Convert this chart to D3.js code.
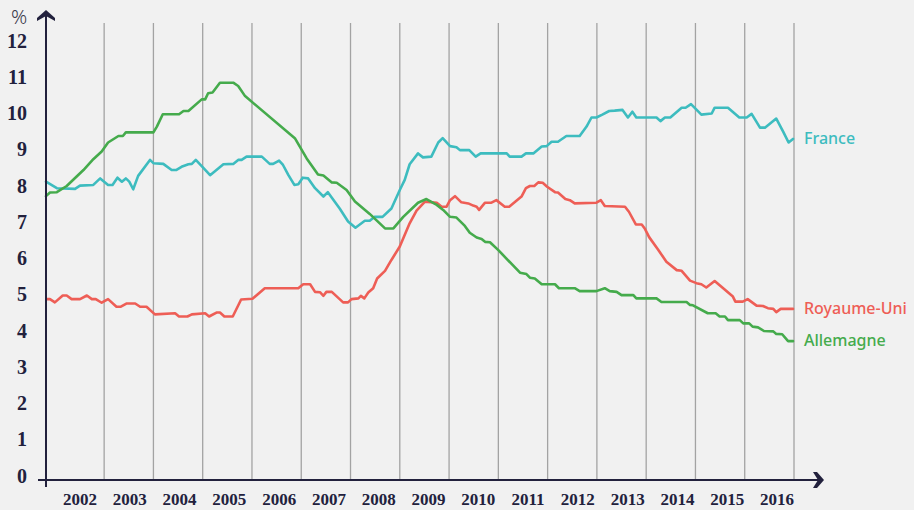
<!DOCTYPE html>
<html><head><meta charset="utf-8">
<script src="https://cdn.jsdelivr.net/npm/d3@7/dist/d3.min.js"></script>
<style>html,body{margin:0;padding:0;background:#f1f1f1;} svg{display:block;}</style>
</head><body><svg id="c" width="914" height="510"></svg>
<script>
// ---- data ----
const yearLabels = [2002,2003,2004,2005,2006,2007,2008,2009,2010,2011,2012,2013,2014,2015,2016];
const gridYears = [2003,2004,2005,2006,2007,2008,2009,2010,2011,2012,2013,2014,2015,2016,2017];
const yTicks = [0,1,2,3,4,5,6,7,8,9,10,11,12];
const seriesNames = ["France","Royaume-Uni","Allemagne"];
const seriesColors = ["#3dbcbf","#ee5e56","#45ab4c"];

const franceDates = [2001.82,2002.04,2002.41,2002.51,2002.78,2002.92,2003.08,2003.17,2003.27,2003.36,2003.44,2003.51,2003.59,2003.69,2003.93,2004.00,2004.20,2004.37,2004.46,2004.57,2004.71,2004.78,2004.86,2004.98,2005.15,2005.42,2005.62,2005.72,2005.79,2005.89,2006.20,2006.36,2006.43,2006.55,2006.63,2006.74,2006.86,2006.94,2007.03,2007.14,2007.28,2007.45,2007.54,2007.78,2007.95,2008.10,2008.29,2008.39,2008.49,2008.65,2008.83,2009.00,2009.10,2009.20,2009.37,2009.47,2009.64,2009.78,2009.87,2010.02,2010.15,2010.22,2010.41,2010.54,2010.64,2011.17,2011.23,2011.47,2011.56,2011.71,2011.88,2011.98,2012.08,2012.21,2012.38,2012.65,2012.79,2012.89,2012.99,2013.11,2013.25,2013.36,2013.52,2013.63,2013.72,2013.80,2014.21,2014.29,2014.38,2014.49,2014.72,2014.80,2014.91,2015.12,2015.33,2015.39,2015.66,2015.89,2016.04,2016.14,2016.31,2016.41,2016.64,2016.78,2016.89,2016.98];
const franceValues = [8.23,8.05,8.03,8.12,8.14,8.32,8.14,8.14,8.34,8.23,8.32,8.23,8.02,8.39,8.83,8.74,8.72,8.55,8.55,8.64,8.71,8.72,8.83,8.66,8.41,8.71,8.72,8.83,8.83,8.92,8.92,8.72,8.72,8.81,8.69,8.41,8.14,8.16,8.34,8.32,8.05,7.82,7.94,7.49,7.13,6.96,7.15,7.15,7.26,7.26,7.49,8.00,8.28,8.71,9.01,8.90,8.92,9.31,9.43,9.21,9.18,9.10,9.10,8.92,9.01,9.01,8.92,8.92,9.01,9.01,9.20,9.21,9.33,9.33,9.49,9.49,9.75,10.00,10.00,10.08,10.18,10.19,10.21,10.00,10.16,10.00,10.00,9.90,10.00,10.00,10.27,10.27,10.37,10.08,10.11,10.27,10.27,10.00,10.00,10.10,9.72,9.72,9.97,9.61,9.31,9.41];

const ukDates = [2001.83,2001.90,2002.00,2002.16,2002.24,2002.34,2002.51,2002.65,2002.75,2002.83,2002.95,2003.08,2003.25,2003.34,2003.46,2003.63,2003.73,2003.86,2004.03,2004.44,2004.52,2004.69,2004.78,2005.05,2005.13,2005.28,2005.35,2005.44,2005.61,2005.78,2006.01,2006.26,2006.94,2007.04,2007.18,2007.28,2007.38,2007.45,2007.51,2007.62,2007.85,2007.95,2008.02,2008.16,2008.21,2008.28,2008.36,2008.46,2008.54,2008.70,2008.83,2009.00,2009.20,2009.34,2009.51,2009.75,2009.85,2009.95,2010.02,2010.12,2010.25,2010.39,2010.49,2010.56,2010.61,2010.73,2010.86,2010.96,2011.13,2011.22,2011.47,2011.56,2011.64,2011.73,2011.81,2011.90,2011.99,2012.15,2012.21,2012.36,2012.45,2012.55,2012.99,2013.08,2013.16,2013.57,2013.65,2013.79,2013.91,2013.97,2014.06,2014.24,2014.41,2014.62,2014.72,2014.89,2015.02,2015.12,2015.22,2015.39,2015.76,2015.81,2015.96,2016.06,2016.24,2016.37,2016.47,2016.58,2016.64,2016.73,2016.98];
const ukValues = [4.99,4.99,4.90,5.09,5.09,4.99,4.99,5.09,4.99,4.99,4.89,4.99,4.78,4.78,4.87,4.87,4.78,4.78,4.57,4.60,4.51,4.51,4.57,4.60,4.51,4.62,4.62,4.51,4.51,4.98,5.00,5.29,5.29,5.40,5.40,5.19,5.18,5.08,5.19,5.19,4.90,4.90,4.99,5.01,5.08,5.01,5.17,5.29,5.56,5.77,6.07,6.44,7.08,7.43,7.68,7.65,7.54,7.54,7.72,7.83,7.66,7.63,7.57,7.54,7.45,7.65,7.65,7.72,7.54,7.54,7.82,8.05,8.11,8.11,8.21,8.20,8.09,7.94,7.93,7.75,7.72,7.63,7.65,7.72,7.56,7.54,7.40,7.05,7.05,6.94,6.70,6.36,6.02,5.79,5.77,5.50,5.43,5.40,5.31,5.49,5.06,4.92,4.92,4.99,4.81,4.80,4.74,4.72,4.63,4.72,4.72];

const germanyDates = [2001.82,2001.90,2002.04,2002.24,2002.58,2002.78,2002.95,2003.08,2003.29,2003.38,2003.44,2004.00,2004.07,2004.19,2004.52,2004.61,2004.71,2004.98,2005.05,2005.11,2005.20,2005.35,2005.62,2005.72,2005.86,2006.87,2007.11,2007.34,2007.45,2007.62,2007.72,2007.92,2008.09,2008.39,2008.70,2008.87,2009.07,2009.37,2009.54,2009.75,2009.88,2010.02,2010.15,2010.32,2010.42,2010.56,2010.66,2010.73,2010.83,2011.00,2011.44,2011.57,2011.64,2011.74,2011.88,2012.15,2012.23,2012.55,2012.65,2012.99,2013.16,2013.26,2013.40,2013.50,2013.74,2013.80,2014.21,2014.31,2014.82,2014.89,2014.95,2015.25,2015.41,2015.49,2015.60,2015.66,2015.90,2015.97,2016.09,2016.16,2016.27,2016.39,2016.58,2016.64,2016.76,2016.88,2016.98];
const germanyValues = [7.83,7.93,7.94,8.11,8.55,8.85,9.06,9.31,9.49,9.49,9.59,9.59,9.75,10.09,10.09,10.18,10.18,10.50,10.50,10.67,10.69,10.96,10.96,10.87,10.59,9.43,8.87,8.43,8.40,8.21,8.20,8.00,7.68,7.34,6.94,6.94,7.26,7.65,7.75,7.59,7.45,7.26,7.24,7.01,6.82,6.69,6.65,6.57,6.56,6.34,5.72,5.68,5.58,5.56,5.40,5.40,5.29,5.29,5.21,5.21,5.29,5.21,5.19,5.10,5.10,5.01,5.01,4.91,4.91,4.83,4.82,4.60,4.60,4.51,4.51,4.41,4.41,4.32,4.32,4.23,4.21,4.11,4.10,4.03,4.02,3.83,3.83];

// ---- drawing ----
const navy = "#22213d";
const svg = d3.select("#c");
svg.append("rect").attr("width",914).attr("height",510).attr("fill","#f1f1f1");

const x = d3.scaleLinear().domain([2001.82, 2017]).range([46, 794]);
const y = d3.scaleLinear().domain([0, 12]).range([480, 45]);
const xLab = d3.scalePoint().domain(yearLabels).range([80, 777]);

// gridlines
svg.append("g").selectAll("line").data(gridYears).join("line")
  .attr("x1", d => x(d)).attr("x2", d => x(d))
  .attr("y1", 23).attr("y2", y(0))
  .attr("stroke", "#a3a3a3").attr("stroke-width", 1.3);

// series
const zip = (a, b) => a.map((t, i) => [t, b[i]]);
const series = [zip(franceDates, franceValues), zip(ukDates, ukValues), zip(germanyDates, germanyValues)];
const line = d3.line().x(d => x(d[0])).y(d => y(d[1]));
svg.append("g").selectAll("path").data(series).join("path")
  .attr("d", line).attr("fill", "none")
  .attr("stroke", (d, i) => seriesColors[i])
  .attr("stroke-width", 2.6).attr("stroke-linejoin", "round").attr("stroke-linecap", "round");

// series labels
svg.append("g").selectAll("text").data(series).join("text")
  .attr("x", d => x(d[d.length-1][0]) + 11)
  .attr("y", d => y(d[d.length-1][1]) + 1)
  .attr("dominant-baseline", "middle")
  .attr("font-family", "'Noto Sans', sans-serif").attr("font-weight", 500).attr("font-size", 16)
  .attr("fill", (d, i) => seriesColors[i])
  .text((d, i) => seriesNames[i]);

// axes
const x0 = x.range()[0];
svg.append("line").attr("x1", x0).attr("x2", x0).attr("y1", 16).attr("y2", y(0) + 7)
  .attr("stroke", navy).attr("stroke-width", 2);
svg.append("line").attr("x1", x0 - 8).attr("x2", 818).attr("y1", y(0)).attr("y2", y(0))
  .attr("stroke", navy).attr("stroke-width", 2);
// arrow heads
svg.append("path").attr("fill", navy)
  .attr("d", `M${x0},10 L${x0+9},18 L${x0+9},21 L${x0},16 L${x0-9},21 L${x0-9},18 Z`);
const ay = y(0);
svg.append("path").attr("fill", navy)
  .attr("d", `M813,${ay-8} L817,${ay-8} L824,${ay} L817,${ay+8} L813,${ay+8} L818,${ay} Z`);

// y tick labels
svg.append("g").selectAll("text").data(yTicks).join("text")
  .attr("x", x0 - 19).attr("y", d => y(d) - 2)
  .attr("text-anchor", "end").attr("dominant-baseline", "middle")
  .attr("font-family", "'Liberation Serif', serif").attr("font-weight", "bold")
  .attr("font-size", 20).attr("fill", navy)
  .text(d => d);

// x tick labels
svg.append("g").selectAll("text").data(yearLabels).join("text")
  .attr("x", d => xLab(d)).attr("y", 505)
  .attr("text-anchor", "middle")
  .attr("font-family", "'Liberation Serif', serif").attr("font-weight", "bold")
  .attr("font-size", 17).attr("fill", navy)
  .text(d => d);

// unit
svg.append("text").attr("x", 19).attr("y", 24).attr("text-anchor", "middle")
  .attr("font-family", "'Noto Sans', sans-serif").attr("font-weight", 300)
  .attr("font-size", 20).attr("fill", "#3a3a4a").text("%");
</script></body></html>
